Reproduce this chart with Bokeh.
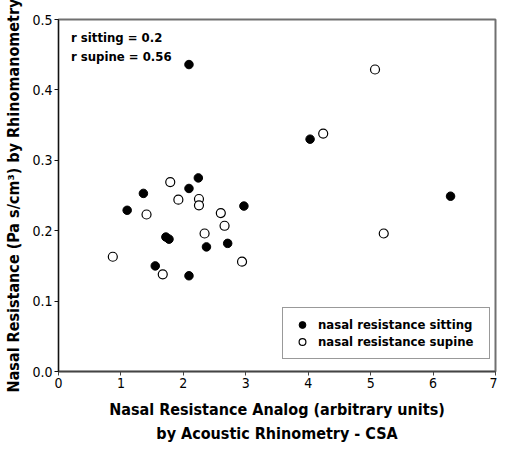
import math
from bokeh.plotting import figure
from bokeh.models import (Range1d, FixedTicker, PrintfTickFormatter, Label, Legend, LegendItem)
from bokeh.embed import file_html
from bokeh.resources import INLINE

# ---- data ----
sitting_x = [2.09, 1.36, 1.10, 2.09, 2.24, 2.97, 4.03, 6.28, 1.55, 1.72, 1.77, 2.09, 2.37, 2.71]
sitting_y = [0.436, 0.253, 0.229, 0.260, 0.275, 0.235, 0.330, 0.249, 0.150, 0.191, 0.188, 0.136, 0.177, 0.182]
supine_x = [1.79, 1.92, 2.25, 2.25, 2.60, 2.66, 2.34, 2.94, 1.67, 1.41, 0.87, 5.07, 4.24, 5.21]
supine_y = [0.269, 0.244, 0.245, 0.236, 0.225, 0.207, 0.196, 0.156, 0.138, 0.223, 0.163, 0.429, 0.338, 0.196]
x_ticks = [0, 1, 2, 3, 4, 5, 6, 7]
y_ticks = [0.0, 0.1, 0.2, 0.3, 0.4, 0.5]
series_names = ["nasal resistance sitting", "nasal resistance supine"]
stats_text = ["r sitting = 0.2", "r supine = 0.56"]
x_title = "Nasal Resistance Analog (arbitrary units)\nby Acoustic Rhinometry - CSA"
y_title = "Nasal Resistance (Pa s/cm\u00b3) by Rhinomanometry"

FONT = "DejaVu Sans Condensed"

p = figure(width=497, height=446, output_backend="svg", toolbar_location=None,
           x_range=Range1d(0, 7), y_range=Range1d(0, 0.5),
           min_border_left=58, min_border_right=2, min_border_top=19, min_border_bottom=66)
p.background_fill_color = "white"
p.border_fill_color = "white"
p.xgrid.visible = False
p.ygrid.visible = False
p.outline_line_color = "#707070"
p.outline_line_width = 2

for ax in (p.xaxis[0], p.yaxis[0]):
    ax.major_label_text_font = FONT
    ax.major_label_text_font_size = "14px"
    ax.major_label_text_color = "black"
    ax.minor_tick_line_color = None
    ax.major_tick_in = 0
    ax.major_tick_out = 4
    ax.major_label_standoff = 2
    ax.axis_label_text_font = FONT
    ax.axis_label_text_font_style = "bold"
    ax.axis_label_text_color = "black"

p.xaxis.ticker = FixedTicker(ticks=x_ticks)
p.xaxis.formatter = PrintfTickFormatter(format="%d")
p.yaxis.ticker = FixedTicker(ticks=y_ticks)
p.yaxis.formatter = PrintfTickFormatter(format="%.1f")
p.yaxis.axis_line_color = "#111111"
p.yaxis.major_tick_line_color = "#111111"
p.xaxis.axis_line_color = "#444444"
p.xaxis.axis_line_width = 1.5
p.xaxis.major_tick_line_color = "#444444"

p.xaxis.axis_label = x_title
p.xaxis.axis_label_text_font_size = "16px"
p.xaxis.axis_label_text_line_height = 1.3
p.xaxis.axis_label_standoff = 9

p.yaxis.axis_label = y_title
p.yaxis.axis_label_text_font_size = "16px"
p.yaxis.axis_label_standoff = 6

r1 = p.scatter(sitting_x, sitting_y, size=8.5, marker="circle", fill_color="black", line_color="black")
r2 = p.scatter(supine_x, supine_y, size=9, marker="circle", fill_color="white", line_color="black", line_width=1.2)

for txt, yy in zip(stats_text, [0.4745, 0.4475]):
    p.add_layout(Label(x=0.2, y=yy, text=txt, text_baseline="middle",
                       text_font=FONT, text_font_style="bold", text_font_size="13px",
                       text_color="black"))

legend = Legend(items=[LegendItem(label=series_names[0], renderers=[r1]),
                       LegendItem(label=series_names[1], renderers=[r2])],
                location=(224, 12))
legend.label_text_font = FONT
legend.label_text_font_style = "bold"
legend.label_text_font_size = "13px"
legend.label_text_color = "black"
legend.label_height = 17
legend.glyph_height = 17
legend.glyph_width = 22
legend.label_width = 163
legend.label_standoff = 5
legend.spacing = 0
legend.padding = 8
legend.margin = 0
legend.border_line_color = "#333333"
legend.border_line_width = 1
legend.background_fill_alpha = 1
p.add_layout(legend)

open("out.html", "w").write(file_html(p, INLINE))
